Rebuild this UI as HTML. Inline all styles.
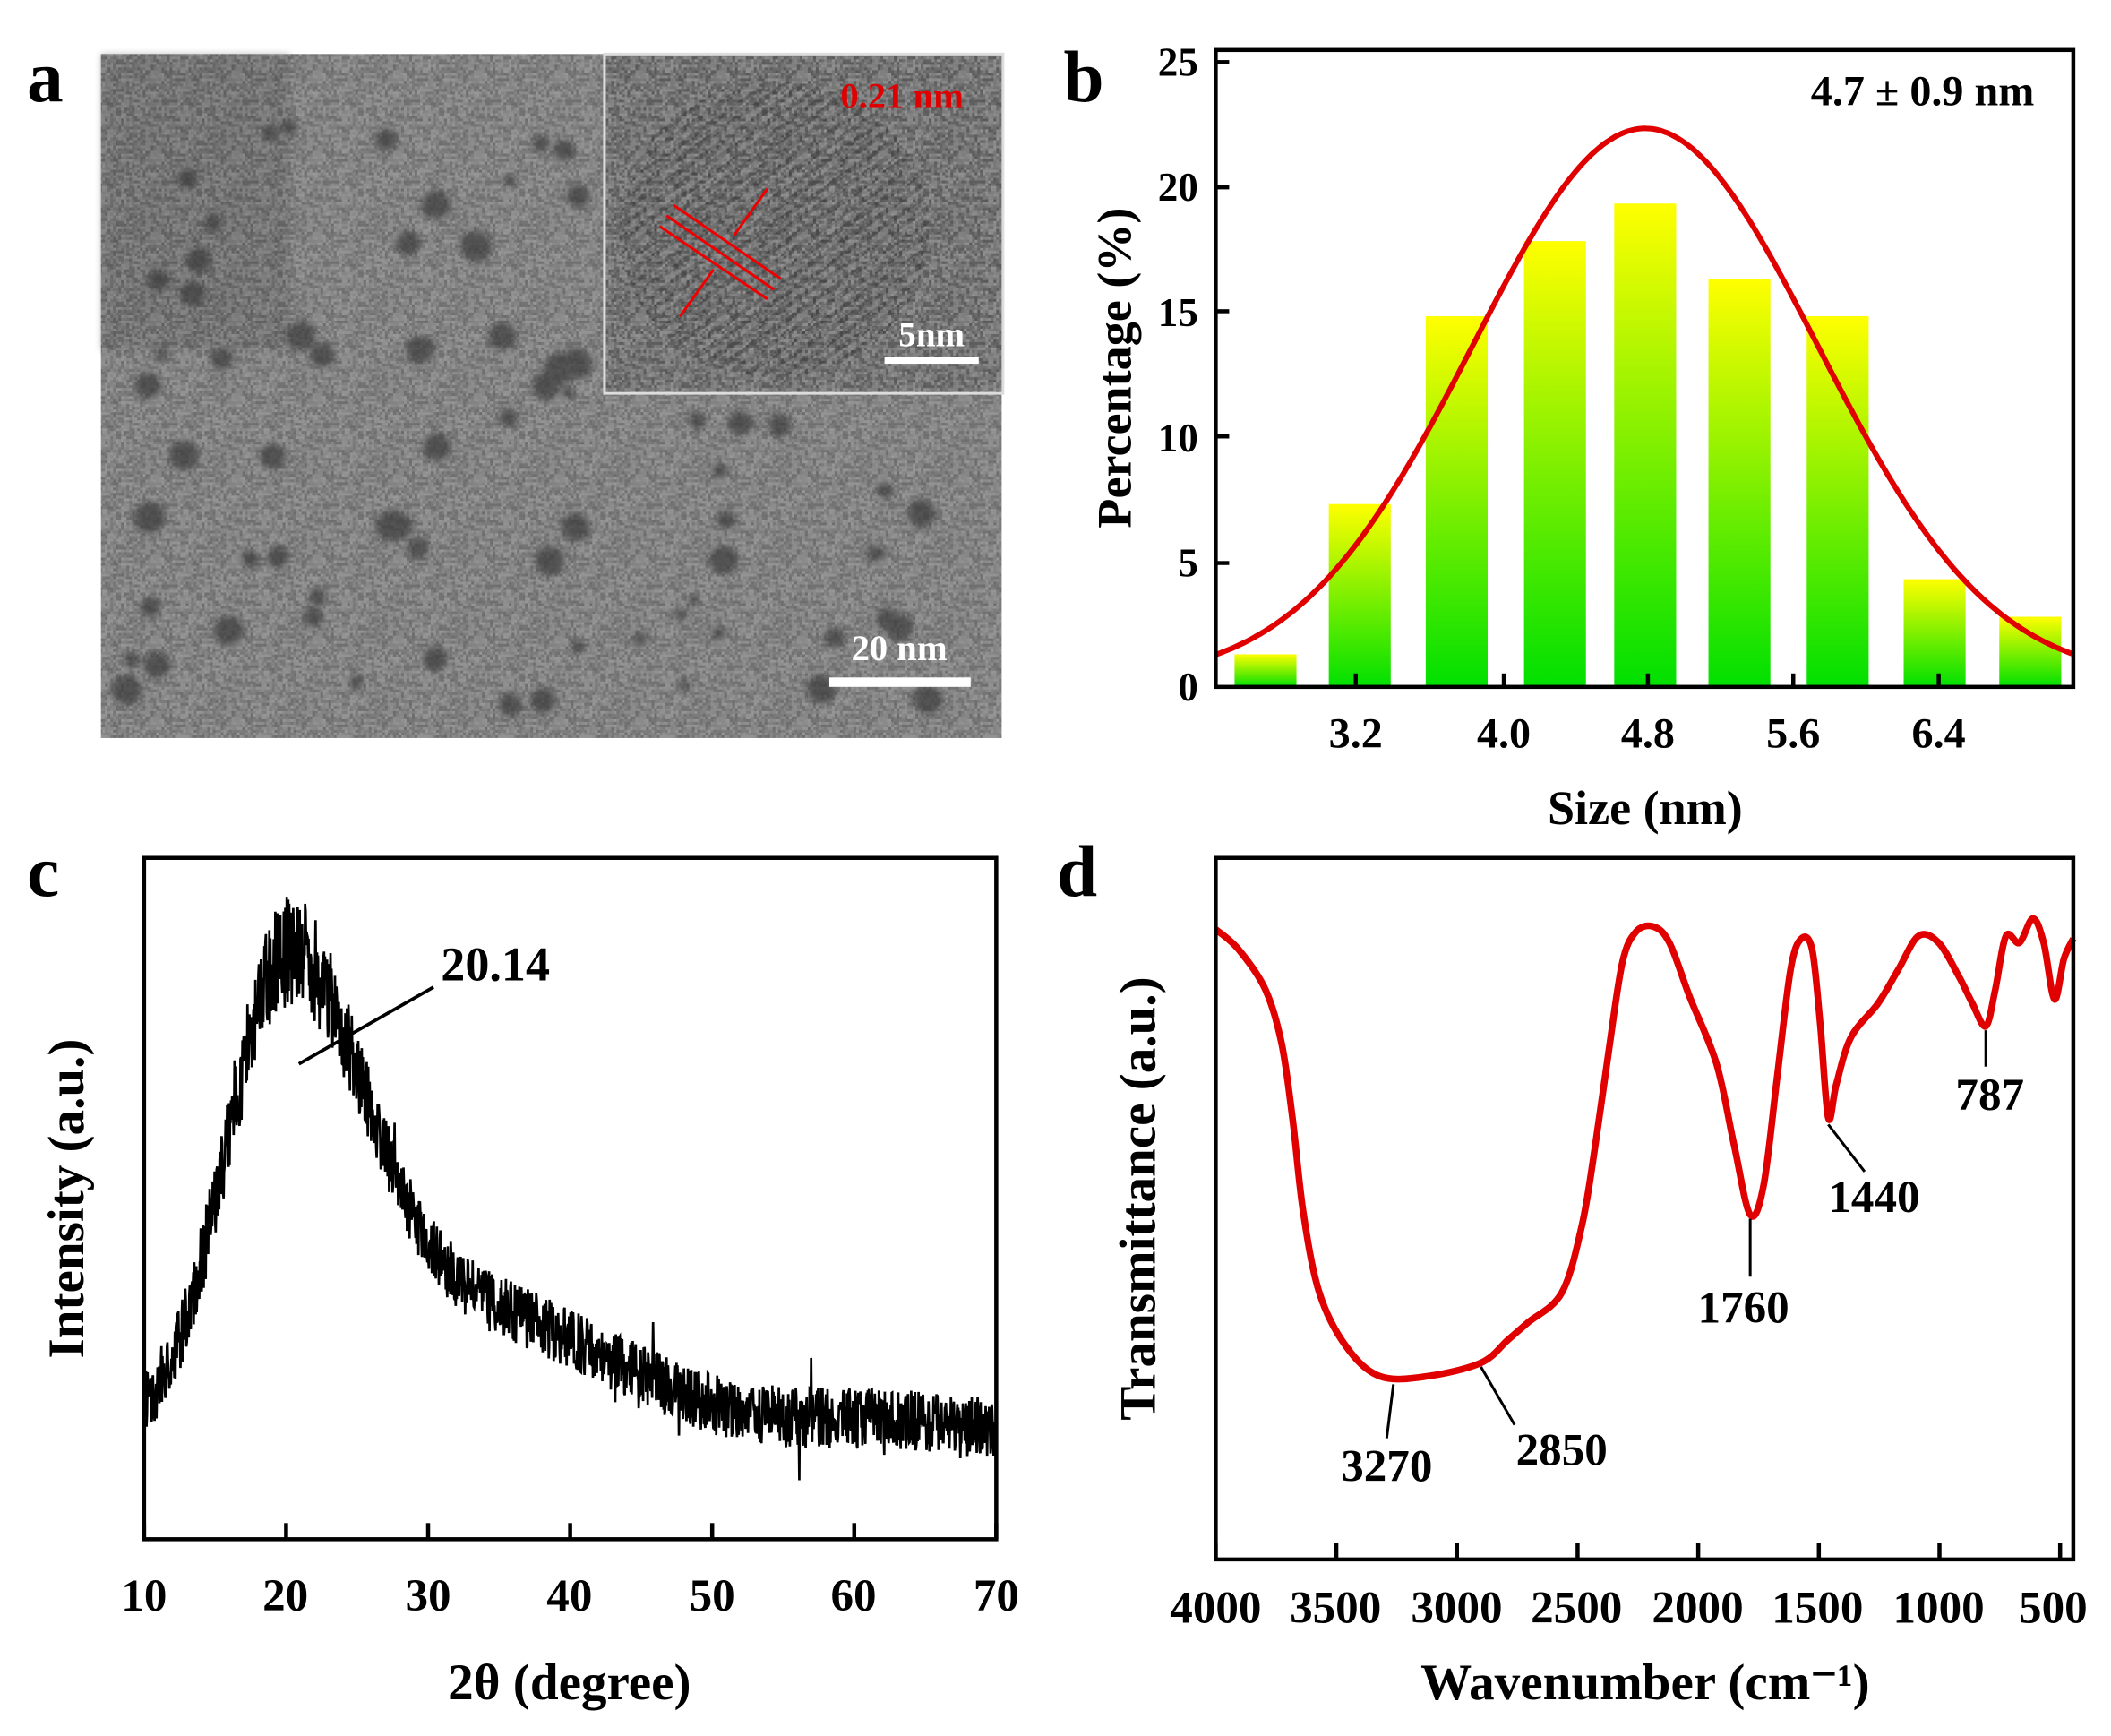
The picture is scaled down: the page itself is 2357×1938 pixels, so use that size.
<!DOCTYPE html>
<html><head><meta charset="utf-8"><style>
html,body{margin:0;padding:0;background:#fff}
svg{display:block}
text{font-family:"Liberation Serif",serif;font-weight:bold}
</style></head><body>
<svg id="s" width="2357" height="1938" viewBox="0 0 1568 1289" xmlns="http://www.w3.org/2000/svg">
<defs>
<pattern id="grain" width="60" height="60" patternUnits="userSpaceOnUse"><g id="gt"></g></pattern>
<filter id="blur"><feGaussianBlur stdDeviation="2.5"/></filter>
<linearGradient id="bar" x1="0" y1="0" x2="0" y2="1">
<stop offset="0" stop-color="#ffff00"/><stop offset="1" stop-color="#00e000"/>
</linearGradient>
<pattern id="lat" width="8" height="8" patternUnits="userSpaceOnUse" patternTransform="rotate(-35)">
<rect width="8" height="8" fill="#6a6a6a"/><rect width="8" height="3.5" fill="#3a3a3a"/>
</pattern>
</defs>
<rect width="1568" height="1289" fill="#fff"/>
<!-- panel a -->
<rect x="75" y="40" width="669" height="508" fill="#808080"/>
<rect x="75" y="40" width="140" height="220" fill="#4a4a4a" opacity="0.35" filter="url(#blur)"/>
<rect x="75" y="40" width="669" height="508" fill="url(#grain)" opacity="0.3"/>
<g id="dots" fill="#3a3a3a" opacity="0.7" filter="url(#blur)"></g>
<rect x="449" y="40" width="296" height="252" fill="#6a6a6a"/>
<ellipse cx="575" cy="170" rx="115" ry="110" fill="url(#lat)" opacity="0.6"/>
<rect x="449" y="40" width="296" height="252" fill="url(#grain)" opacity="0.4"/>
<rect x="449" y="40" width="296" height="252" fill="none" stroke="#ddd" stroke-width="2"/>
<text x="670" y="80" font-size="27" fill="#e00000" text-anchor="middle">0.21 nm</text>
<text x="692" y="257" font-size="26" fill="#fff" text-anchor="middle">5nm</text>
<rect x="657" y="265" width="70" height="5" fill="#fff"/>
<g stroke="#e00" stroke-width="2" fill="none"><line x1="495" y1="160" x2="575" y2="215"/><line x1="500" y1="152" x2="580" y2="207"/><line x1="490" y1="168" x2="570" y2="222"/><line x1="570" y1="140" x2="545" y2="175"/><line x1="505" y1="235" x2="530" y2="200"/></g>
<text x="668" y="490" font-size="27" fill="#fff" text-anchor="middle">20 nm</text>
<rect x="616" y="503" width="105" height="7" fill="#fff"/>
<text x="20" y="75" font-size="54">a</text>
<text x="790" y="75" font-size="54">b</text>
<text x="20" y="665" font-size="54">c</text>
<text x="785" y="665" font-size="54">d</text>
<!-- panel b -->
<g id="bars"></g>
<path id="gauss" fill="none" stroke="#e00000" stroke-width="4"/>
<rect x="903" y="37" width="637" height="473" fill="none" stroke="#000" stroke-width="3"/>
<g font-size="30" text-anchor="end">
<text x="890" y="520">0</text><text x="890" y="428">5</text><text x="890" y="335">10</text><text x="890" y="242">15</text><text x="890" y="149">20</text><text x="890" y="56">25</text></g>
<g stroke="#000" stroke-width="3"><line x1="903" y1="418" x2="913" y2="418"/><line x1="903" y1="324" x2="913" y2="324"/><line x1="903" y1="231" x2="913" y2="231"/><line x1="903" y1="139" x2="913" y2="139"/><line x1="903" y1="46" x2="913" y2="46"/>
<line x1="1007" y1="510" x2="1007" y2="500"/><line x1="1117" y1="510" x2="1117" y2="500"/><line x1="1224" y1="510" x2="1224" y2="500"/><line x1="1332" y1="510" x2="1332" y2="500"/><line x1="1440" y1="510" x2="1440" y2="500"/></g>
<g font-size="32" text-anchor="middle"><text x="1007" y="555">3.2</text><text x="1117" y="555">4.0</text><text x="1224" y="555">4.8</text><text x="1332" y="555">5.6</text><text x="1440" y="555">6.4</text></g>
<text x="1222" y="612" font-size="36" text-anchor="middle">Size (nm)</text>
<text transform="translate(840,273) rotate(-90)" font-size="36" text-anchor="middle">Percentage (%)</text>
<text x="1428" y="78" font-size="32" text-anchor="middle">4.7 ± 0.9 nm</text>
<!-- panel c -->
<path id="xrd" fill="none" stroke="#000" stroke-width="1.8"/>
<rect x="107" y="637" width="633" height="506" fill="none" stroke="#000" stroke-width="3"/>
<g id="ctick" stroke="#000" stroke-width="3"></g>
<g font-size="34" text-anchor="middle"><text x="107" y="1196">10</text><text x="212" y="1196">20</text><text x="318" y="1196">30</text><text x="423" y="1196">40</text><text x="529" y="1196">50</text><text x="634" y="1196">60</text><text x="740" y="1196">70</text></g>
<text x="423" y="1262" font-size="38" text-anchor="middle">2θ (degree)</text>
<text transform="translate(62,890) rotate(-90)" font-size="38" text-anchor="middle">Intensity (a.u.)</text>
<line x1="222" y1="790" x2="322" y2="733" stroke="#000" stroke-width="2.5"/>
<text x="368" y="728" font-size="36" text-anchor="middle">20.14</text>
<!-- panel d -->
<path id="ftir" fill="none" stroke="#e00000" stroke-width="5" stroke-linejoin="round"/>
<rect x="903" y="637" width="637" height="521" fill="none" stroke="#000" stroke-width="3"/>
<g id="dtick" stroke="#000" stroke-width="3"></g>
<g font-size="34" text-anchor="middle"><text x="903" y="1205">4000</text><text x="992" y="1205">3500</text><text x="1082" y="1205">3000</text><text x="1171" y="1205">2500</text><text x="1261" y="1205">2000</text><text x="1350" y="1205">1500</text><text x="1440" y="1205">1000</text><text x="1525" y="1205">500</text></g>
<text x="1222" y="1262" font-size="38" text-anchor="middle">Wavenumber (cm⁻¹)</text>
<text transform="translate(858,890) rotate(-90)" font-size="38" text-anchor="middle">Transmittance (a.u.)</text>
<g stroke="#000" stroke-width="2"><line x1="1035" y1="1028" x2="1030" y2="1068"/><line x1="1100" y1="1015" x2="1125" y2="1058"/><line x1="1300" y1="905" x2="1300" y2="948"/><line x1="1358" y1="835" x2="1385" y2="870"/><line x1="1475" y1="765" x2="1475" y2="792"/></g>
<g font-size="34" text-anchor="middle"><text x="1030" y="1100">3270</text><text x="1160" y="1088">2850</text><text x="1295" y="982">1760</text><text x="1392" y="900">1440</text><text x="1478" y="824">787</text></g>
</svg>
<script>
var NS="http://www.w3.org/2000/svg";
var seed=7;function rnd(){seed=(seed*16807)%2147483647;return seed/2147483647;}
var gt=document.getElementById("gt");var h="";
for(var y=0;y<60;y+=2)for(var x=0;x<60;x+=2){var v=Math.floor(60+rnd()*150);h+='<rect x="'+x+'" y="'+y+'" width="2" height="2" fill="rgb('+v+','+v+','+v+')"/>';}
gt.innerHTML=h;
var g=document.getElementById("dots");
for(var i=0;i<90;i++){var x=85+rnd()*640,y=90+rnd()*440;if(x>440&&y<300)continue;var c=document.createElementNS(NS,"circle");c.setAttribute("cx",x);c.setAttribute("cy",y);c.setAttribute("r",4+rnd()*8);g.appendChild(c);}
var bx=[940,1010,1082,1155,1222,1292,1365,1437,1508],bv=[1.3,7.3,14.8,17.8,19.3,16.3,14.8,4.3,2.8];
var bb=document.getElementById("bars");
bx.forEach(function(x,i){var r=document.createElementNS(NS,"rect");var hh=bv[i]*18.6;r.setAttribute("x",x-23);r.setAttribute("y",510-hh);r.setAttribute("width",46);r.setAttribute("height",hh);r.setAttribute("fill","url(#bar)");bb.appendChild(r);});
var d="";for(var x=903;x<=1540;x+=3){var v=0.3+22*Math.exp(-Math.pow((x-1222)/128,2)/2);d+=(x==903?"M":"L")+x+","+(510-v*18.6).toFixed(1);}
document.getElementById("gauss").setAttribute("d",d);
function base(t){var p=320*Math.exp(-Math.pow((t-19.8)/(t<20?4:5.5),2)/2);var b=90*Math.exp(-Math.pow((t-33)/10,2)/2);var e=10*Math.exp(-Math.pow((t-62)/6,2)/2);return 1065-p-b-e;}
d="";for(var t=10;t<=70;t+=0.035){var y=base(t)+(rnd()-0.5)*(45+40*Math.exp(-Math.pow((t-20)/5,2)));if(rnd()<0.015)y+=(rnd()-0.5)*80;d+=(t==10?"M":"L")+(107+(t-10)*10.55).toFixed(1)+","+y.toFixed(1);}
document.getElementById("xrd").setAttribute("d",d);
var ct=document.getElementById("ctick");
for(var k=0;k<7;k++){var l=document.createElementNS(NS,"line");var x=107+k*105.5;l.setAttribute("x1",x);l.setAttribute("x2",x);l.setAttribute("y1",1143);l.setAttribute("y2",1131);ct.appendChild(l);}
var dt=document.getElementById("dtick");
for(var k=0;k<8;k++){var l=document.createElementNS(NS,"line");var x=903+k*89.6;l.setAttribute("x1",x);l.setAttribute("x2",x);l.setAttribute("y1",1158);l.setAttribute("y2",1146);dt.appendChild(l);}
var pts=[[903,690],[920,705],[940,735],[952,775],[960,830],[968,900],[980,960],[1000,1000],[1025,1022],[1060,1022],[1100,1012],[1120,995],[1135,982],[1160,960],[1175,910],[1185,850],[1195,780],[1205,715],[1215,692],[1228,688],[1240,700],[1255,740],[1275,790],[1288,850],[1300,902],[1310,880],[1320,800],[1330,720],[1338,697],[1346,705],[1352,760],[1358,830],[1364,805],[1375,770],[1395,745],[1410,720],[1425,695],[1440,700],[1455,725],[1465,745],[1475,762],[1482,735],[1490,695],[1500,700],[1510,682],[1518,700],[1526,742],[1533,712],[1540,697]];
d="M"+pts[0][0]+","+pts[0][1];
for(var i=0;i<pts.length-1;i++){var p0=pts[Math.max(0,i-1)],p1=pts[i],p2=pts[i+1],p3=pts[Math.min(pts.length-1,i+2)];
d+="C"+(p1[0]+(p2[0]-p0[0])/6).toFixed(1)+","+(p1[1]+(p2[1]-p0[1])/6).toFixed(1)+" "+(p2[0]-(p3[0]-p1[0])/6).toFixed(1)+","+(p2[1]-(p3[1]-p1[1])/6).toFixed(1)+" "+p2[0]+","+p2[1];}
document.getElementById("ftir").setAttribute("d",d);
</script>
</body></html>
